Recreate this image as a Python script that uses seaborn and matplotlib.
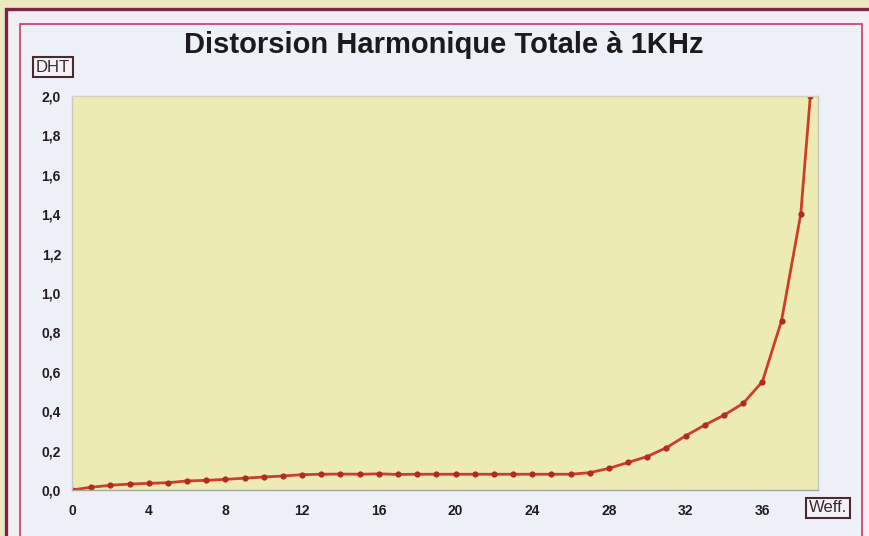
import matplotlib
matplotlib.use("Agg")
import matplotlib.pyplot as plt
from matplotlib.patches import Rectangle
import seaborn as sns
import pandas as pd

# Total harmonic distortion (%) versus effective output power (W)
weff = [0, 1, 2, 3, 4, 5, 6, 7, 8, 9, 10, 11, 12, 13, 14, 15, 16, 17, 18, 19,
        20, 21, 22, 23, 24, 25, 26, 27, 28, 29, 30, 31, 32, 33, 34, 35, 36,
        37, 38, 38.5]
dht = [0.0, 0.014, 0.024, 0.03, 0.034, 0.037, 0.046, 0.049, 0.054, 0.06,
       0.066, 0.071, 0.078, 0.08, 0.081, 0.08, 0.082, 0.079, 0.08, 0.08,
       0.08, 0.08, 0.08, 0.08, 0.08, 0.08, 0.08, 0.088, 0.11, 0.14, 0.17,
       0.215, 0.275, 0.33, 0.38, 0.44, 0.55, 0.86, 1.40, 2.0]

x_ticks = [0, 4, 8, 12, 16, 20, 24, 28, 32, 36]
y_ticks = [0.0, 0.2, 0.4, 0.6, 0.8, 1.0, 1.2, 1.4, 1.6, 1.8, 2.0]
y_tick_labels = ["0,0", "0,2", "0,4", "0,6", "0,8", "1,0", "1,2", "1,4",
                 "1,6", "1,8", "2,0"]

title = "Distorsion Harmonique Totale à 1KHz"
y_name = "DHT"
x_name = "Weff."

df = pd.DataFrame({"Weff": weff, "DHT": dht})

sns.set_theme(style="white")
plt.rcParams["font.family"] = ["Liberation Sans", "DejaVu Sans"]

W, H = 870, 536
fig = plt.figure(figsize=(W / 100, H / 100), dpi=100)
fig.patch.set_facecolor("#ede7c2")


def px_rect(x0, y0, x1, y1, **kw):
    """Rectangle given in pixel coordinates (origin top-left)."""
    return Rectangle((x0 / W, 1 - y1 / H), (x1 - x0) / W, (y1 - y0) / H,
                     transform=fig.transFigure, **kw)


# outer frame and inner chart panel, kept behind the axes
fig.patches.append(px_rect(6, 9, 900, 600, facecolor="#f1eef4",
                           edgecolor="#7e2444", linewidth=2.4, zorder=-10))
fig.patches.append(px_rect(20, 24, 862, 600, facecolor="#eef0f8",
                           edgecolor="#d2456e", linewidth=1.3, zorder=-9))

ax = fig.add_axes([72 / W, 1 - 490 / H, (818 - 72) / W, (490 - 96) / H])
ax.set_zorder(2)
ax.set_facecolor("#ecebb4")

sns.lineplot(data=df, x="Weff", y="DHT", ax=ax, color="#cf3d27",
             linewidth=2.0, marker="o", markersize=4.5,
             markeredgewidth=0, markerfacecolor="#b02c22")

ax.set_xlim(0, 38.9)
ax.set_ylim(0, 2.0)
ax.set_xticks(x_ticks)
ax.set_xticklabels([str(t) for t in x_ticks])
ax.set_yticks(y_ticks)
ax.set_yticklabels(y_tick_labels)
ax.set_xlabel("")
ax.set_ylabel("")

ax.tick_params(axis="both", which="major", length=3, width=0.8,
               color="#a8aca8", labelsize=10, labelcolor="#241c20")
ax.tick_params(axis="x", pad=7)
ax.tick_params(axis="y", pad=5)
for lab in ax.get_xticklabels() + ax.get_yticklabels():
    lab.set_fontweight("bold")

for side in ["left", "bottom", "top", "right"]:
    ax.spines[side].set_visible(True)
    ax.spines[side].set_linewidth(1.0)
ax.spines["left"].set_color("#c8c8cc")
ax.spines["bottom"].set_color("#a3aaa3")
ax.spines["top"].set_color("#d8cfc0")
ax.spines["right"].set_color("#c0c4c4")

fig.text(444 / W, 1 - 45 / H, title, ha="center", va="center",
         fontsize=21, fontweight="bold", color="#1c1a1c", zorder=3)

box = dict(boxstyle="square,pad=0.15", facecolor="#f3f1f6",
           edgecolor="#4a2a30", linewidth=1.5)
fig.text(53 / W, 1 - 67 / H, y_name, ha="center", va="center",
         fontsize=12, color="#3a2a30", bbox=box, zorder=3)
fig.text(828 / W, 1 - 508 / H, x_name, ha="center", va="center",
         fontsize=12, color="#3a2a30", bbox=box, zorder=3)

fig.savefig("out.png", dpi=100, facecolor=fig.get_facecolor())
